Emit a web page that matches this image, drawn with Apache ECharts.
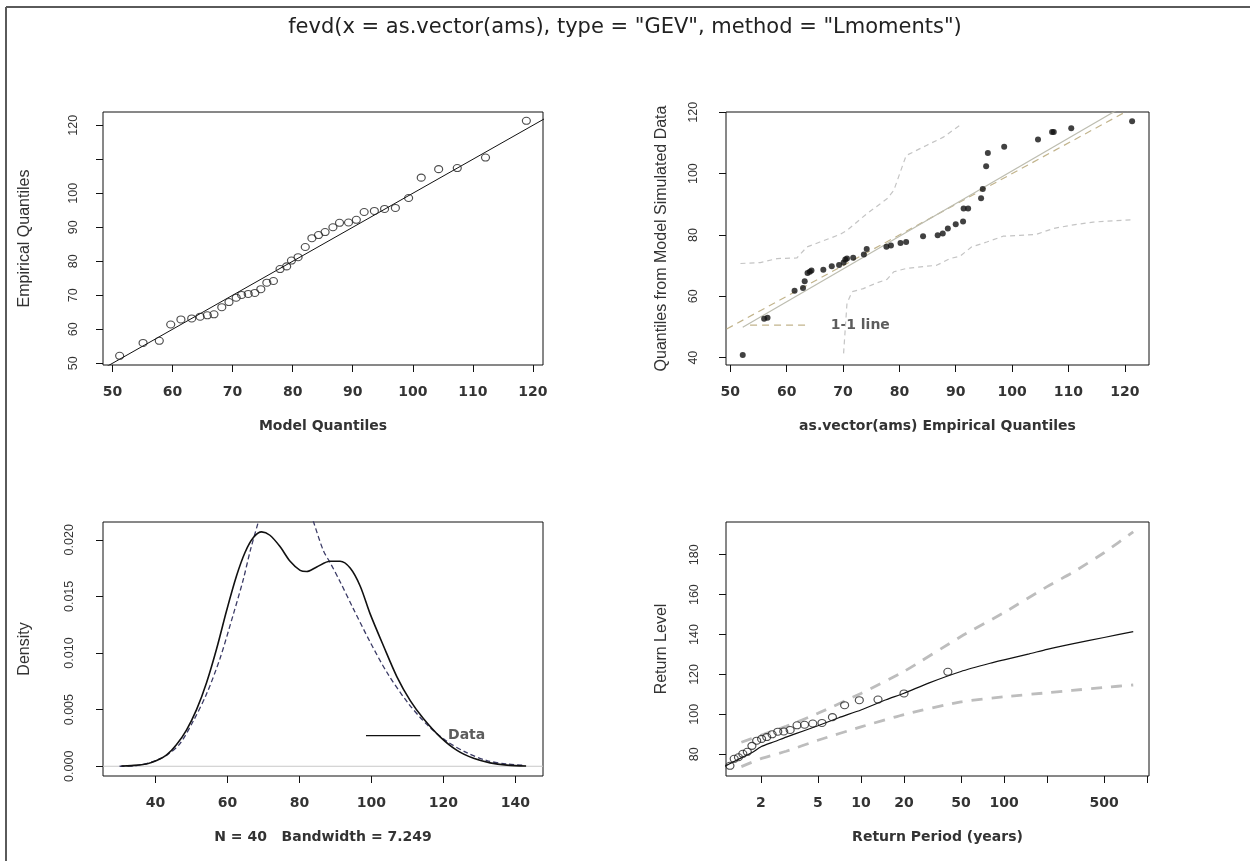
<!DOCTYPE html>
<html>
<head>
<meta charset="utf-8">
<script src="https://cdn.jsdelivr.net/npm/echarts@6/dist/echarts.min.js"></script>
<style>
html,body{margin:0;padding:0;background:#fff;}
#chart{width:1250px;height:861px;}
</style>
</head>
<body>
<div id="chart"></div>
<script>
// ---------------- data ----------------
const mainTitle = 'fevd(x = as.vector(ams), type = "GEV", method = "Lmoments")';

// sorted annual maxima (empirical quantiles)
const ams = [52.2, 56.0, 56.6, 61.4, 62.9, 63.2, 63.7, 64.1, 64.4, 66.5,
             68.0, 69.3, 70.1, 70.4, 70.7, 71.8, 73.7, 74.2, 77.7, 78.5,
             80.2, 81.2, 84.2, 86.8, 87.7, 88.6, 90.0, 91.3, 91.4, 92.2,
             94.5, 94.8, 95.4, 95.7, 98.6, 104.6, 107.1, 107.4, 110.5, 121.3];

// panel 1: model quantiles
const modelQuantiles = [51.2, 55.1, 57.8, 59.7, 61.4, 63.2, 64.6, 65.8, 66.9, 68.2,
                        69.4, 70.6, 71.5, 72.6, 73.7, 74.7, 75.7, 76.8, 77.9, 79.0,
                        79.8, 80.9, 82.1, 83.2, 84.3, 85.4, 86.7, 87.8, 89.3, 90.6,
                        91.9, 93.6, 95.3, 97.1, 99.3, 101.4, 104.3, 107.4, 112.1, 118.9];
const oneToOne = [40, 130];

// panel 2: quantiles from model simulated data
const simQuantiles = [40.9, 52.7, 53.0, 61.8, 62.7, 64.9, 67.6, 68.0, 68.4, 68.7,
                      69.8, 70.2, 71.0, 72.0, 72.3, 72.6, 73.6, 75.4, 76.2, 76.6,
                      77.4, 77.7, 79.6, 79.9, 80.5, 82.1, 83.5, 84.4, 88.6, 88.6,
                      92.0, 95.0, 102.4, 106.7, 108.8, 111.1, 113.6, 113.6, 114.8, 117.1];
const regLineX = [52.2, 121.3];
const regLineY = [49.9, 123.6];
const ciUpperX = [51.8, 55.3, 58.3, 61.8, 63.6, 65.9, 69.5, 70.7, 74.2, 77.8, 79.0, 81.2, 84.8, 87.8, 89.6, 91.1];
const ciUpperY = [70.7, 71.0, 72.3, 72.5, 76.1, 77.7, 80.2, 81.5, 86.9, 91.8, 94.5, 105.9, 109.2, 111.9, 114.3, 116.2];
const ciLowerX = [70.1, 70.7, 71.6, 73.6, 76.0, 77.8, 79.0, 81.3, 84.8, 86.6, 89.0, 90.8, 92.8, 95.5, 98.4, 101.4, 104.3, 107.3, 110.2, 114.4, 121.5];
const ciLowerY = [41.4, 57.7, 61.5, 62.5, 64.4, 65.5, 68.0, 69.1, 69.8, 70.1, 72.3, 73.1, 76.1, 77.7, 79.6, 79.9, 80.2, 82.1, 83.1, 84.2, 85.0];
const qqLegendSegX = [53.5, 63.3];
const qqLegendY = 50.6;
const qqLegendText = '1-1 line';
const qqLegendTextX = 67.8;

// panel 3: densities
const kdeX = [30.5, 33.3, 37.5, 40.3, 43.1, 45.8, 48.6, 51.4, 54.2, 57.0, 59.8, 62.5, 64.9, 67.2, 69.5, 71.8, 74.6, 77.4,
              80.2, 82.0, 84.8, 88.5, 91.3, 94.1, 96.9, 99.6, 103.4, 107.1, 110.8, 114.5, 119.1, 123.8, 128.4, 133.0, 137.7, 143.0];
const kdeY = [0.00002, 0.00006, 0.0002, 0.0005, 0.0010, 0.0019, 0.0032, 0.0050, 0.0074, 0.0104, 0.0138, 0.0168, 0.0189, 0.0202,
              0.0207, 0.0204, 0.0194, 0.0181, 0.0173, 0.0172, 0.0176, 0.0181, 0.0181, 0.0175, 0.0159, 0.0135, 0.0106, 0.0079,
              0.0058, 0.0042, 0.0026, 0.0014, 0.0007, 0.0003, 0.0001, 0.00002];
const gevX = [30.0, 33.8, 37.0, 40.3, 43.5, 46.8, 50.5, 54.2, 57.9, 61.7, 64.4, 66.3, 68.6, 70.5, 73.0, 76.5, 80.0, 83.9,
              86.7, 88.5, 91.3, 95.0, 99.6, 104.3, 109.9, 115.4, 121.0, 126.5, 132.1, 137.7, 142.3];
const gevY = [0.0, 0.00002, 0.0002, 0.00053, 0.00106, 0.0020, 0.0040, 0.0064, 0.0095, 0.0135, 0.0165, 0.0190, 0.0216, 0.0235,
              0.0256, 0.0266, 0.0254, 0.0216, 0.0190, 0.0180, 0.0163, 0.0139, 0.0110, 0.0083, 0.0057, 0.0037, 0.0022, 0.0012,
              0.0005, 0.0002, 0.0001];
const densLegendSegX = [98.5, 113.6];
const densLegendY = 0.00271;
const densLegendText = 'Data';
const densLegendTextX = 121.3;

// panel 4: return levels
const returnPeriod = [0.2693, 0.3311, 0.3824, 0.4297, 0.4753, 0.5203, 0.5657, 0.6120, 0.6595, 0.7087,
                      0.7601, 0.8139, 0.8706, 0.9307, 0.9945, 1.0627, 1.1359, 1.2148, 1.3002, 1.3931,
                      1.4947, 1.6063, 1.7299, 1.8673, 2.0214, 2.1955, 2.3938, 2.6223, 2.8878, 3.2013,
                      3.5768, 4.0350, 4.6071, 5.3416, 6.3203, 7.6894, 9.7418, 13.160, 19.996, 40.496];
const rlPeriod = [1.1, 1.2, 1.35, 1.5, 1.75, 2, 2.5, 3, 4, 5, 7, 10, 15, 20, 30, 50, 80, 100, 150, 200, 300, 500, 800];
const rlLevel  = [73.7, 75.1, 77.0, 78.6, 81.0, 83.8, 86.4, 88.6, 91.8, 94.3, 98.3, 102.2, 107.3, 110.6, 115.8, 121.5,
                  125.6, 127.3, 130.3, 132.6, 135.3, 138.5, 141.5];
const ciPeriod = [1.46, 2, 3, 5, 10, 20, 50, 100, 200, 300, 500, 800];
const ciUpper  = [86.0, 89.5, 94.0, 100.5, 110.5, 121.5, 139.0, 151.0, 164.0, 171.0, 181.0, 191.5];
const ciLower  = [73.8, 77.8, 81.5, 87.0, 93.7, 99.9, 106.3, 108.8, 110.8, 112.0, 113.5, 114.7];

// axis ticks / labels
const p1xTicks = [50, 60, 70, 80, 90, 100, 110, 120];
const p1yTicks = [50, 60, 70, 80, 90, 100, 110, 120];
const p1yLabels = [50, 60, 70, 80, 90, 100, 120];
const p2xTicks = [50, 60, 70, 80, 90, 100, 110, 120];
const p2yTicks = [40, 60, 80, 100, 120];
const p3xTicks = [40, 60, 80, 100, 120, 140];
const p3yTicks = [0, 0.005, 0.010, 0.015, 0.020];
const p4xTicks = [2, 5, 10, 20, 50, 100, 200, 500, 1000];
const p4xLabels = [2, 5, 10, 20, 50, 100, 500];
const p4yTicks = [80, 100, 120, 140, 160, 180];

// ---------------- chart ----------------
const zip = (xs, ys) => xs.map((x, i) => [x, ys[i]]);
const lg = v => Math.log10(v);

const TICKFONT = {fontFamily: 'DejaVu Sans', fontWeight: 'bold', fontSize: 14, color: '#333'};
const ROTFONT = {fontFamily: 'Liberation Sans', fontWeight: 'normal', fontSize: 12.5, color: '#333'};
const XNAME = {fontFamily: 'DejaVu Sans', fontWeight: 'bold', fontSize: 14, color: '#333'};
const YNAME = {fontFamily: 'Liberation Sans', fontWeight: 'normal', fontSize: 16, color: '#333'};

function xAx(g, min, max, ticks, labels, name, fmt) {
  return {
    type: 'value', gridIndex: g, min: min, max: max, scale: true,
    name: name, nameLocation: 'middle', nameGap: 54, nameTextStyle: XNAME,
    axisLine: {show: false, onZero: false},
    axisTick: {show: true, length: 7, customValues: ticks, lineStyle: {color: '#111', width: 1}},
    axisLabel: Object.assign({show: true, customValues: labels, margin: 20, formatter: fmt}, TICKFONT),
    splitLine: {show: false}
  };
}
function yAx(g, min, max, ticks, labels, name, margin, gap, fmt) {
  return {
    type: 'value', gridIndex: g, min: min, max: max, scale: true,
    name: name, nameLocation: 'middle', nameGap: gap, nameTextStyle: YNAME,
    axisLine: {show: false, onZero: false},
    axisTick: {show: true, length: 7, customValues: ticks, lineStyle: {color: '#111', width: 1}},
    axisLabel: Object.assign({show: true, customValues: labels, margin: margin, rotate: 90, formatter: fmt}, ROTFONT),
    splitLine: {show: false}
  };
}
const gridBase = {show: true, borderColor: '#111', borderWidth: 1, backgroundColor: 'transparent', containLabel: false, outerBoundsMode: 'none'};

const openCircle = {color: 'rgba(255,255,255,0)', borderColor: '#222', borderWidth: 1.1};
const txtLabel = (t) => ({show: true, position: 'right', distance: 0, formatter: t,
  fontFamily: 'DejaVu Sans', fontWeight: 'bold', fontSize: 14, color: '#333'});

const option = {
  animation: false,
  backgroundColor: '#fff',
  title: {
    text: mainTitle, left: 'center', top: 12,
    textStyle: {fontFamily: 'DejaVu Sans', fontWeight: 'normal', fontSize: 21, color: '#222'}
  },
  graphic: [
    {type: 'line', shape: {x1: 6, y1: 7, x2: 1250, y2: 7}, style: {stroke: '#5a5a5a', lineWidth: 2}, silent: true},
    {type: 'line', shape: {x1: 6, y1: 7, x2: 6, y2: 861}, style: {stroke: '#5a5a5a', lineWidth: 2}, silent: true}
  ],
  grid: [
    Object.assign({left: 103, top: 112, width: 440, height: 253}, gridBase),
    Object.assign({left: 726, top: 112, width: 423, height: 253}, gridBase),
    Object.assign({left: 103, top: 522, width: 440, height: 254}, gridBase),
    Object.assign({left: 726, top: 522, width: 423, height: 254}, gridBase)
  ],
  xAxis: [
    xAx(0, 48.43, 121.67, p1xTicks, p1xTicks, 'Model Quantiles'),
    xAx(1, 49.23, 124.3, p2xTicks, p2xTicks, 'as.vector(ams) Empirical Quantiles'),
    xAx(2, 25.4, 147.7, p3xTicks, p3xTicks, 'N = 40   Bandwidth = 7.249'),
    xAx(3, lg(1.14), lg(1031), p4xTicks.map(lg), p4xLabels.map(lg), 'Return Period (years)',
        v => String(Math.round(Math.pow(10, v))))
  ],
  yAxis: [
    yAx(0, 49.5, 123.9, p1yTicks, p1yLabels, 'Empirical Quantiles', 23, 70),
    yAx(1, 37.6, 120.1, p2yTicks, p2yTicks, 'Quantiles from Model Simulated Data', 26, 56),
    yAx(2, -0.00086, 0.02157, p3yTicks, p3yTicks, 'Density', 27, 70, v => v.toFixed(3)),
    yAx(3, 69.1, 196.4, p4yTicks, p4yTicks, 'Return Level', 25, 56)
  ],
  series: [
    // ---- panel 1
    {type: 'line', xAxisIndex: 0, yAxisIndex: 0, data: zip(oneToOne, oneToOne), symbol: 'none',
     lineStyle: {color: '#111', width: 1}, clip: true, z: 2},
    {type: 'scatter', xAxisIndex: 0, yAxisIndex: 0, data: zip(modelQuantiles, ams), symbol: 'circle',
     symbolSize: [8, 7], itemStyle: openCircle, z: 3},
    // ---- panel 2
    {type: 'line', xAxisIndex: 1, yAxisIndex: 1, data: zip(ciUpperX, ciUpperY), symbol: 'none',
     lineStyle: {color: '#c4c4c4', width: 1.2, type: [5, 4]}, clip: true},
    {type: 'line', xAxisIndex: 1, yAxisIndex: 1, data: zip(ciLowerX, ciLowerY), symbol: 'none',
     lineStyle: {color: '#c4c4c4', width: 1.2, type: [5, 4]}, clip: true},
    {type: 'line', xAxisIndex: 1, yAxisIndex: 1, data: zip(oneToOne, oneToOne), symbol: 'none',
     lineStyle: {color: '#c2b48c', width: 1.2, type: [7, 5]}, clip: true},
    {type: 'line', xAxisIndex: 1, yAxisIndex: 1, data: zip(regLineX, regLineY), symbol: 'none',
     lineStyle: {color: '#bdbdb0', width: 1.2}, clip: true},
    {type: 'line', xAxisIndex: 1, yAxisIndex: 1, data: qqLegendSegX.map(x => [x, qqLegendY]), symbol: 'none',
     lineStyle: {color: '#c2b48c', width: 1.2, type: [7, 5]}},
    {type: 'scatter', xAxisIndex: 1, yAxisIndex: 1, data: [[qqLegendTextX, qqLegendY]], symbolSize: 0,
     label: txtLabel(qqLegendText)},
    {type: 'scatter', xAxisIndex: 1, yAxisIndex: 1, data: zip(ams, simQuantiles), symbol: 'circle',
     symbolSize: 6, itemStyle: {color: '#111'}, z: 4},
    // ---- panel 3
    {type: 'line', xAxisIndex: 2, yAxisIndex: 2, data: [[25.4, 0], [147.7, 0]], symbol: 'none',
     lineStyle: {color: '#c8c8c8', width: 1}},
    {type: 'line', xAxisIndex: 2, yAxisIndex: 2, data: zip(gevX, gevY), symbol: 'none', smooth: 0.3,
     lineStyle: {color: '#3b3b66', width: 1.3, type: [5, 3]}, clip: true},
    {type: 'line', xAxisIndex: 2, yAxisIndex: 2, data: zip(kdeX, kdeY), symbol: 'none', smooth: 0.3,
     lineStyle: {color: '#111', width: 1.6}, clip: true},
    {type: 'line', xAxisIndex: 2, yAxisIndex: 2, data: densLegendSegX.map(x => [x, densLegendY]), symbol: 'none',
     lineStyle: {color: '#111', width: 1.3}},
    {type: 'scatter', xAxisIndex: 2, yAxisIndex: 2, data: [[densLegendTextX, densLegendY]], symbolSize: 0,
     label: txtLabel(densLegendText)},
    // ---- panel 4
    {type: 'line', xAxisIndex: 3, yAxisIndex: 3, data: ciPeriod.map((t, i) => [lg(t), ciUpper[i]]), symbol: 'none',
     smooth: 0.2, lineStyle: {color: '#bdbdbd', width: 2.8, type: [11, 9]}, clip: true},
    {type: 'line', xAxisIndex: 3, yAxisIndex: 3, data: ciPeriod.map((t, i) => [lg(t), ciLower[i]]), symbol: 'none',
     smooth: 0.2, lineStyle: {color: '#bdbdbd', width: 2.8, type: [11, 9]}, clip: true},
    {type: 'line', xAxisIndex: 3, yAxisIndex: 3, data: rlPeriod.map((t, i) => [lg(t), rlLevel[i]]), symbol: 'none',
     smooth: 0.2, lineStyle: {color: '#111', width: 1.2}, clip: true},
    {type: 'scatter', xAxisIndex: 3, yAxisIndex: 3, data: returnPeriod.map((t, i) => [lg(t), ams[i]]),
     symbol: 'circle', symbolSize: [8, 7], itemStyle: openCircle, clip: true, z: 3}
  ]
};

const chart = echarts.init(document.getElementById('chart'), null, {renderer: 'canvas'});
chart.setOption(option);
</script>
</body>
</html>
